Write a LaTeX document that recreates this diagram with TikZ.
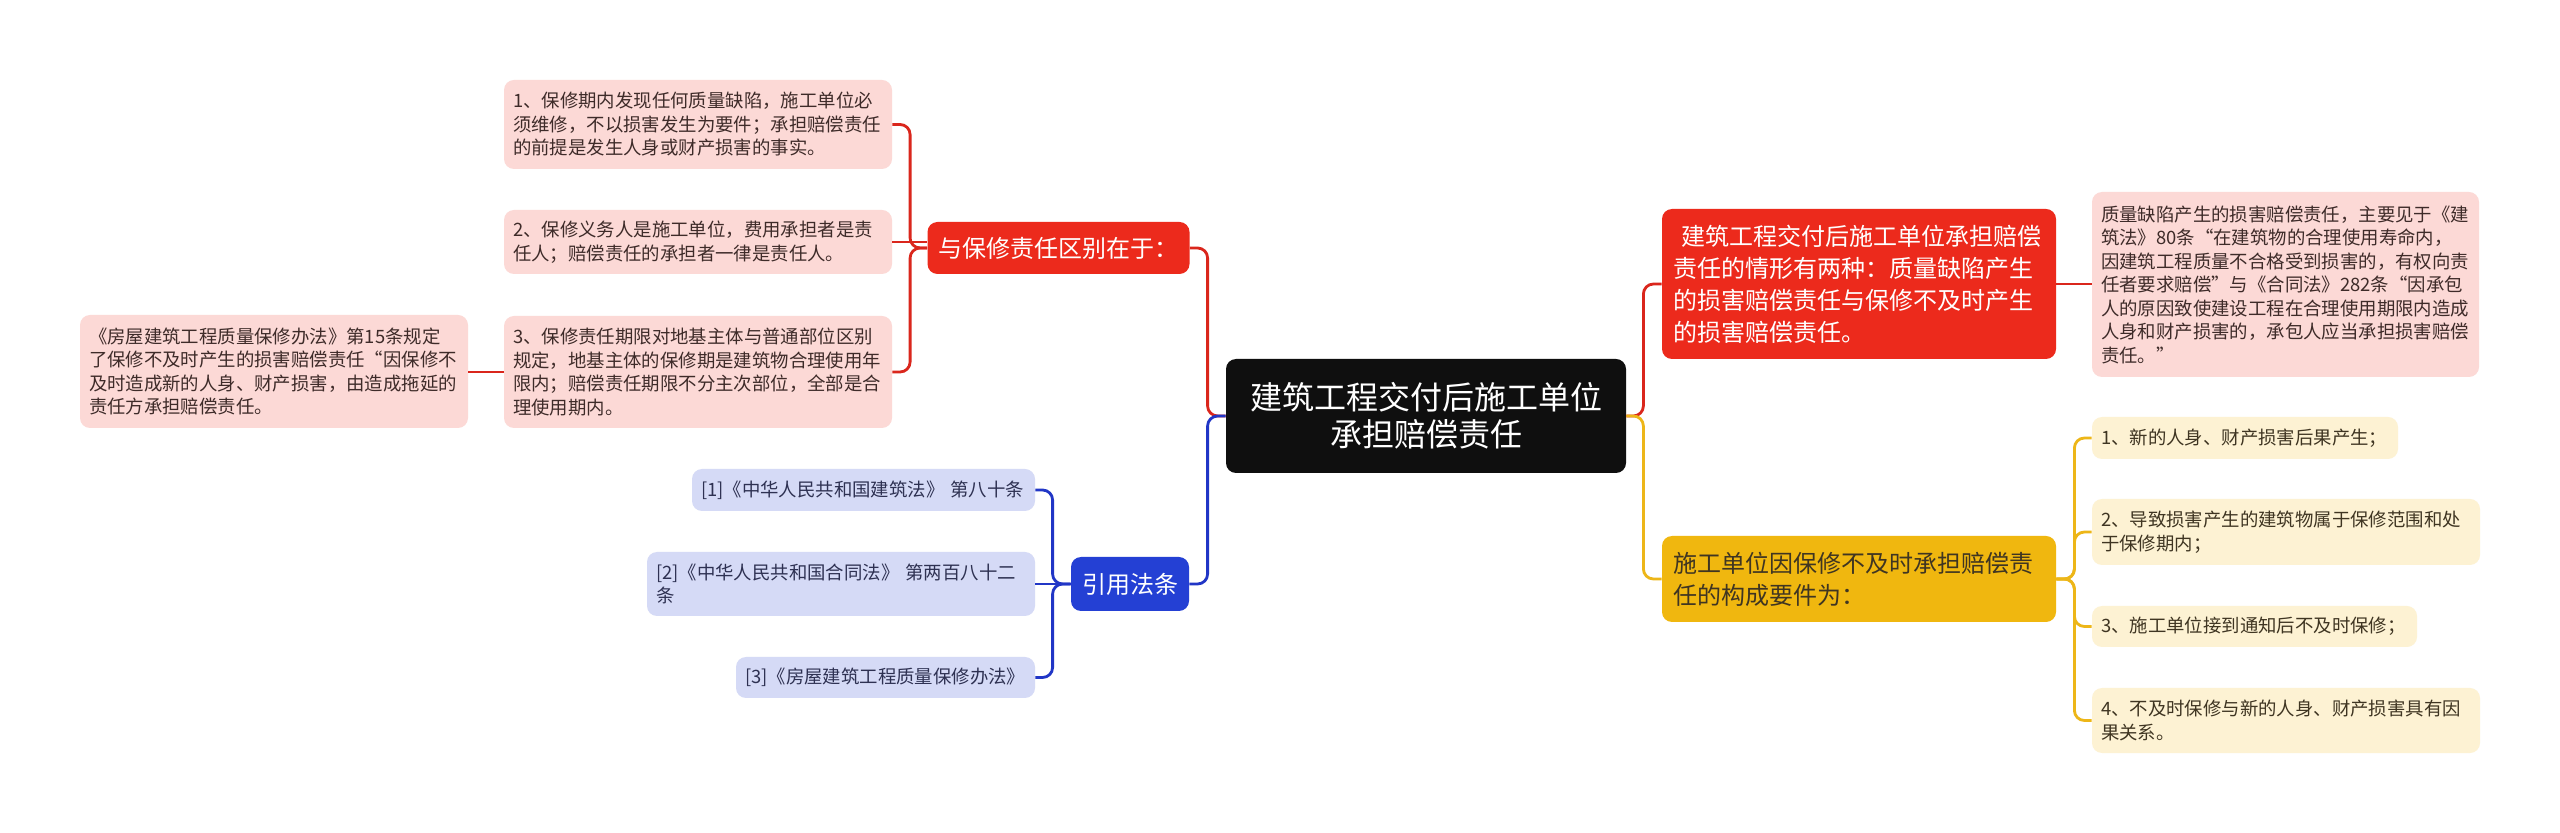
\documentclass[tikz,border=0pt]{standalone}
\usepackage{fontspec}
\setmainfont{Noto Sans CJK SC}
\usetikzlibrary{positioning, calc}
\definecolor{rootbg}{HTML}{0F0F0F}
\definecolor{redmain}{HTML}{EC2A1C}
\definecolor{redsoft}{HTML}{FCD9D6}
\definecolor{redline}{HTML}{DA261C}
\definecolor{redtext}{HTML}{3E2B29}
\definecolor{bluemain}{HTML}{2440D4}
\definecolor{bluesoft}{HTML}{D5DAF6}
\definecolor{blueline}{HTML}{2136C6}
\definecolor{bluetext}{HTML}{2E3152}
\definecolor{goldmain}{HTML}{F0B70F}
\definecolor{goldsoft}{HTML}{FDF2D3}
\definecolor{goldline}{HTML}{EDB618}
\definecolor{goldtext}{HTML}{3F3522}

\tikzset{
  box/.style={rectangle, rounded corners=5pt, inner ysep=0pt, align=left},
  rootbox/.style={box, fill=rootbg, text=white, align=center, font=\fontsize{16}{18.3}\selectfont, minimum width=200pt, minimum height=57pt},
  branchbox/.style={box, font=\fontsize{12}{16}\selectfont, inner xsep=5.5pt},
  leafbox/.style={box, font=\fontsize{9.2}{11.75}\selectfont, inner xsep=4.5pt},
  redbranch/.style={branchbox, fill=redmain, text=white},
  bluebranch/.style={branchbox, fill=bluemain, text=white},
  goldbranch/.style={branchbox, fill=goldmain, text=goldtext},
  redleaf/.style={leafbox, fill=redsoft, text=redtext},
  blueleaf/.style={leafbox, fill=bluesoft, text=bluetext},
  goldleaf/.style={leafbox, fill=goldsoft, text=goldtext},
  link/.style={line width=1.4pt, rounded corners=5pt},
  redlink/.style={link, redline},
  bluelink/.style={link, blueline},
  goldlink/.style={link, goldline}
}

\begin{document}
\begin{tikzpicture}[x=0.5pt, y=-0.5pt]
  \fill[white] (0,0) rectangle (2560,833);
  \useasboundingbox (0,0) rectangle (2560,833);

  % centre
  \node[rootbox] (root) at (1426,416) {建筑工程交付后施工单位\\承担赔偿责任};

  % left side
  \node[redbranch, minimum width=130.5pt, minimum height=26pt] (diff) at (1058.5,248) {与保修责任区别在于：};
  \node[redleaf, text width=185pt, minimum height=44.5pt] (diff1) at (698,124.5)
    {1、保修期内发现任何质量缺陷，施工单位必\\须维修，不以损害发生为要件；承担赔偿责任\\的前提是发生人身或财产损害的事实。};
  \node[redleaf, text width=185pt, minimum height=32pt] (diff2) at (698,242)
    {2、保修义务人是施工单位，费用承担者是责\\任人；赔偿责任的承担者一律是责任人。};
  \node[redleaf, text width=185pt, minimum height=56pt] (diff3) at (698,372)
    {3、保修责任期限对地基主体与普通部位区别\\规定，地基主体的保修期是建筑物合理使用年\\限内；赔偿责任期限不分主次部位，全部是合\\理使用期内。};
  \node[redleaf, text width=185pt, minimum height=56.5pt] (diff3a) at (274,371.5)
    {《房屋建筑工程质量保修办法》第15条规定\\了保修不及时产生的损害赔偿责任“因保修不\\及时造成新的人身、财产损害，由造成拖延的\\责任方承担赔偿责任。};

  \node[bluebranch, minimum width=59pt, minimum height=27pt] (law) at (1130,584) {引用法条};
  \node[blueleaf, text width=162.5pt, minimum height=21pt] (law1) at (863.5,490) {[1]《中华人民共和国建筑法》~第八十条};
  \node[blueleaf, text width=185pt, minimum height=32pt] (law2) at (841,584) {[2]《中华人民共和国合同法》~第两百八十二\\条};
  \node[blueleaf, text width=140.5pt, minimum height=20.5pt] (law3) at (885.5,677.5) {[3]《房屋建筑工程质量保修办法》};

  % right side
  \node[redbranch, text width=186pt, minimum height=75pt] (kinds) at (1859,284)
    {\hspace*{4pt}建筑工程交付后施工单位承担赔偿\\责任的情形有两种：质量缺陷产生\\的损害赔偿责任与保修不及时产生\\的损害赔偿责任。};
  \node[redleaf, text width=184.5pt, minimum height=92.5pt] (kinds1) at (2285.5,284.5)
    {质量缺陷产生的损害赔偿责任，主要见于《建\\筑法》80条“在建筑物的合理使用寿命内，\\因建筑工程质量不合格受到损害的，有权向责\\任者要求赔偿”与《合同法》282条“因承包\\人的原因致使建设工程在合理使用期限内造成\\人身和财产损害的，承包人应当承担损害赔偿\\责任。”};

  \node[goldbranch, text width=186pt, minimum height=43pt] (cond) at (1859,579)
    {施工单位因保修不及时承担赔偿责\\任的构成要件为：};
  \node[goldleaf, text width=144pt, minimum height=21pt] (cond1) at (2245,438) {1、新的人身、财产损害后果产生；};
  \node[goldleaf, text width=185pt, minimum height=33pt] (cond2) at (2286,532)
    {2、导致损害产生的建筑物属于保修范围和处\\于保修期内；};
  \node[goldleaf, text width=153.5pt, minimum height=20.5pt] (cond3) at (2254.5,626.5) {3、施工单位接到通知后不及时保修；};
  \node[goldleaf, text width=185pt, minimum height=32.5pt] (cond4) at (2286,720.5)
    {4、不及时保修与新的人身、财产损害具有因\\果关系。};

  % connectors
  \draw[redlink] (diff.east) -| ([xshift=-9pt]root.west) [sharp corners] -- (root.west);
  \draw[bluelink] (law.east) -| ([xshift=-9pt]root.west) [sharp corners] -- (root.west);
  \draw[redlink] (kinds.west) -| ([xshift=8.5pt]root.east) [sharp corners] -- (root.east);
  \draw[goldlink] (cond.west) -| ([xshift=8.5pt]root.east) [sharp corners] -- (root.east);

  \foreach \n in {diff1, diff3}
    \draw[redlink] (\n.east) -| ([xshift=-8.5pt]diff.west) [sharp corners] -- (diff.west);
  \draw[redlink] (diff2.east) -- (diff2.east -| diff.west);
  \draw[redlink] (diff3.west) -- (diff3.west -| diff3a.east);

  \foreach \n in {law1, law3}
    \draw[bluelink] (\n.east) -| ([xshift=-9pt]law.west) [sharp corners] -- (law.west);
  \draw[bluelink] (law2.east) -- (law.west);

  \draw[redlink] (kinds.east) -- (kinds.east -| kinds1.west);
  \foreach \n in {cond1, cond2, cond3, cond4}
    \draw[goldlink] (\n.west) -| ([xshift=9pt]cond.east) [sharp corners] -- (cond.east);
\end{tikzpicture}
\end{document}
